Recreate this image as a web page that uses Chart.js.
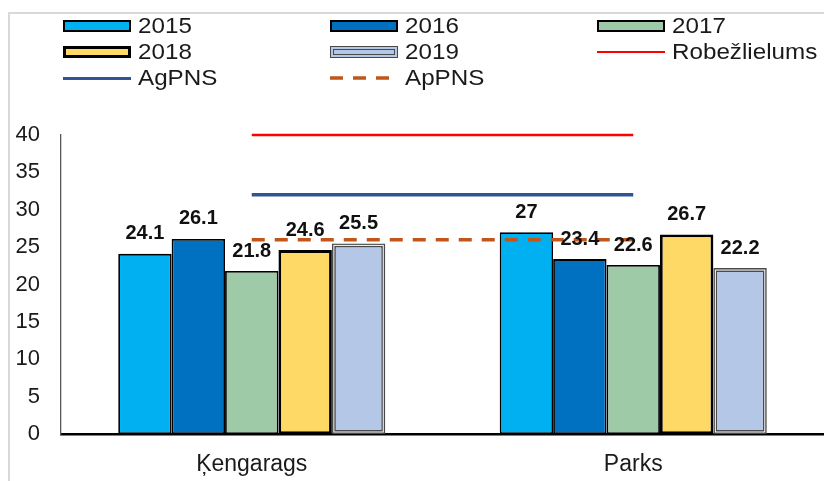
<!DOCTYPE html>
<html>
<head>
<meta charset="utf-8">
<script src="https://cdn.jsdelivr.net/npm/chart.js@4/dist/chart.umd.min.js"></script>
<style>
  html, body { margin: 0; padding: 0; background: #fff; overflow: hidden; }
  #wrap { position: relative; width: 824px; height: 481px; overflow: hidden; font-family: "Liberation Sans", Arial, sans-serif; }
  #frame { position: absolute; left: 8px; top: 12px; width: 900px; height: 600px; border: 2px solid #d9d9d9; box-sizing: border-box; }
  #chart { position: absolute; left: 0; top: 0; }
  .lg { position: absolute; height: 26px; display: flex; align-items: center; font-size: 22px; color: #1a1a1a; white-space: nowrap; }
  .lg span { display: inline-block; transform: scaleX(1.1); transform-origin: left center; }
  .sw { width: 68px; height: 12px; box-sizing: border-box; margin-right: 7px; }
  .ln { width: 68px; height: 0; margin-right: 7px; }
</style>
</head>
<body>
<div id="wrap">
  <div id="frame"></div>
  <canvas id="chart" width="824" height="481"></canvas>
  <div id="legend"></div>
</div>
<script>
// ---- data ----
const categories = ['Ķengarags', 'Parks'];
const years = ['2015', '2016', '2017', '2018', '2019'];
const v2015 = [24.1, 27];
const v2016 = [26.1, 23.4];
const v2017 = [21.8, 22.6];
const v2018 = [24.6, 26.7];
const v2019 = [25.5, 22.2];
const robezlielums = [40, 40];
const agpns = [32, 32];
const appns = [26, 26];
const lineNames = ['Robežlielums', 'AgPNS', 'ApPNS'];
const yMin = 0, yMax = 40, yStep = 5;

// ---- styles ----
const barColors = ['#00B0F0', '#0070C0', '#9FCAA8', '#FFD966', '#B4C7E7'];
const barBorders = ['#000', '#000', '#000', '#000', '#4a4a4a'];
const barBorderW = [1.8, 1.8, 1.8, 2.8, 4];
const barValues = [v2015, v2016, v2017, v2018, v2019];

const datasets = [];
years.forEach((y, i) => {
  datasets.push({
    type: 'bar', label: y, data: barValues[i],
    backgroundColor: barColors[i], borderColor: barBorders[i],
    borderWidth: barBorderW[i], borderSkipped: false, order: 2
  });
});
datasets.push({ type: 'line', label: lineNames[0], data: robezlielums, borderColor: '#FF0000', borderWidth: 2.5, pointRadius: 0, order: 1, clip: false });
datasets.push({ type: 'line', label: lineNames[1], data: agpns, borderColor: '#2F5597', borderWidth: 3.5, pointRadius: 0, order: 1, clip: false });
datasets.push({ type: 'line', label: lineNames[2], data: appns, borderColor: '#C0561A', borderWidth: 3.5, borderDash: [13, 10], pointRadius: 0, order: 0, clip: false });

const extras = {
  id: 'extras',
  afterDatasetsDraw(chart) {
    const ctx = chart.ctx;
    // double border effect for 2019 bars
    const m19 = chart.getDatasetMeta(4);
    ctx.save();
    ctx.strokeStyle = '#ffffff';
    ctx.lineWidth = 1;
    m19.data.forEach(el => {
      const l = el.x - el.width / 2, t = el.y, b = el.base;
      ctx.strokeRect(l + 2, t + 2, el.width - 4, b - t - 4);
    });
    ctx.restore();
    // data labels
    ctx.save();
    ctx.font = 'bold 20px "Liberation Sans", Arial, sans-serif';
    ctx.fillStyle = '#111';
    ctx.textAlign = 'center';
    ctx.textBaseline = 'middle';
    for (let d = 0; d < years.length; d++) {
      const meta = chart.getDatasetMeta(d);
      meta.data.forEach((el, i) => {
        ctx.fillText(String(barValues[d][i]), el.x, el.y - 20);
      });
    }
    ctx.restore();
  }
};

new Chart(document.getElementById('chart'), {
  data: { labels: categories, datasets },
  options: {
    responsive: false,
    animation: false,
    layout: { padding: { top: 135, left: 0, right: 0, bottom: 0 } },
    datasets: { bar: { categoryPercentage: 0.7, barPercentage: 1.0 } },
    plugins: { legend: { display: false }, tooltip: { enabled: false } },
    scales: {
      x: {
        offset: true,
        grid: { display: false, drawTicks: false },
        border: { display: true, color: '#000', width: 2.5 },
        ticks: { color: '#1a1a1a', font: { size: 23, family: '"Liberation Sans", Arial' }, padding: 17 },
        afterFit(s) { s.height = 47; }
      },
      y: {
        min: yMin, max: yMax,
        grid: { display: false, drawTicks: false },
        border: { display: true, color: '#595959', width: 1.3 },
        ticks: { stepSize: yStep, color: '#1a1a1a', font: { size: 22, family: '"Liberation Sans", Arial' }, padding: 21 },
        afterFit(s) { s.width = 61; }
      }
    }
  },
  plugins: [extras]
});

// ---- legend (HTML) ----
const legend = document.getElementById('legend');
const colX = [63, 330, 597];
const rowY = [13, 39, 65];
const items = [];
years.forEach((y, i) => items.push({ label: y, kind: 'box', i }));
lineNames.forEach((n, j) => items.push({ label: n, kind: 'line', j }));
const lineStyles = [
  'border-top: 2.5px solid #FF0000;',
  'border-top: 3.5px solid #2F5597;',
  ''
];
items.forEach((it, k) => {
  const d = document.createElement('div');
  d.className = 'lg';
  d.style.left = colX[k % 3] + 'px';
  d.style.top = rowY[Math.floor(k / 3)] + 'px';
  let sw;
  if (it.kind === 'box') {
    sw = document.createElement('div');
    sw.className = 'sw';
    sw.style.background = barColors[it.i];
    if (it.i === 4) sw.style.border = '4px double #4a4a4a';
    else sw.style.border = (it.i === 3 ? 3 : 2) + 'px solid #000';
  } else if (it.j < 2) {
    sw = document.createElement('div');
    sw.className = 'ln';
    sw.style.cssText = lineStyles[it.j];
  } else {
    sw = document.createElement('canvas');
    sw.width = 68; sw.height = 6;
    sw.style.marginRight = '7px';
    const c = sw.getContext('2d');
    c.strokeStyle = '#C0561A'; c.lineWidth = 3.5; c.setLineDash([13, 10]);
    c.beginPath(); c.moveTo(0, 3); c.lineTo(68, 3); c.stroke();
  }
  d.appendChild(sw);
  const t = document.createElement('span');
  t.textContent = it.label;
  d.appendChild(t);
  legend.appendChild(d);
});
</script>
</body>
</html>
